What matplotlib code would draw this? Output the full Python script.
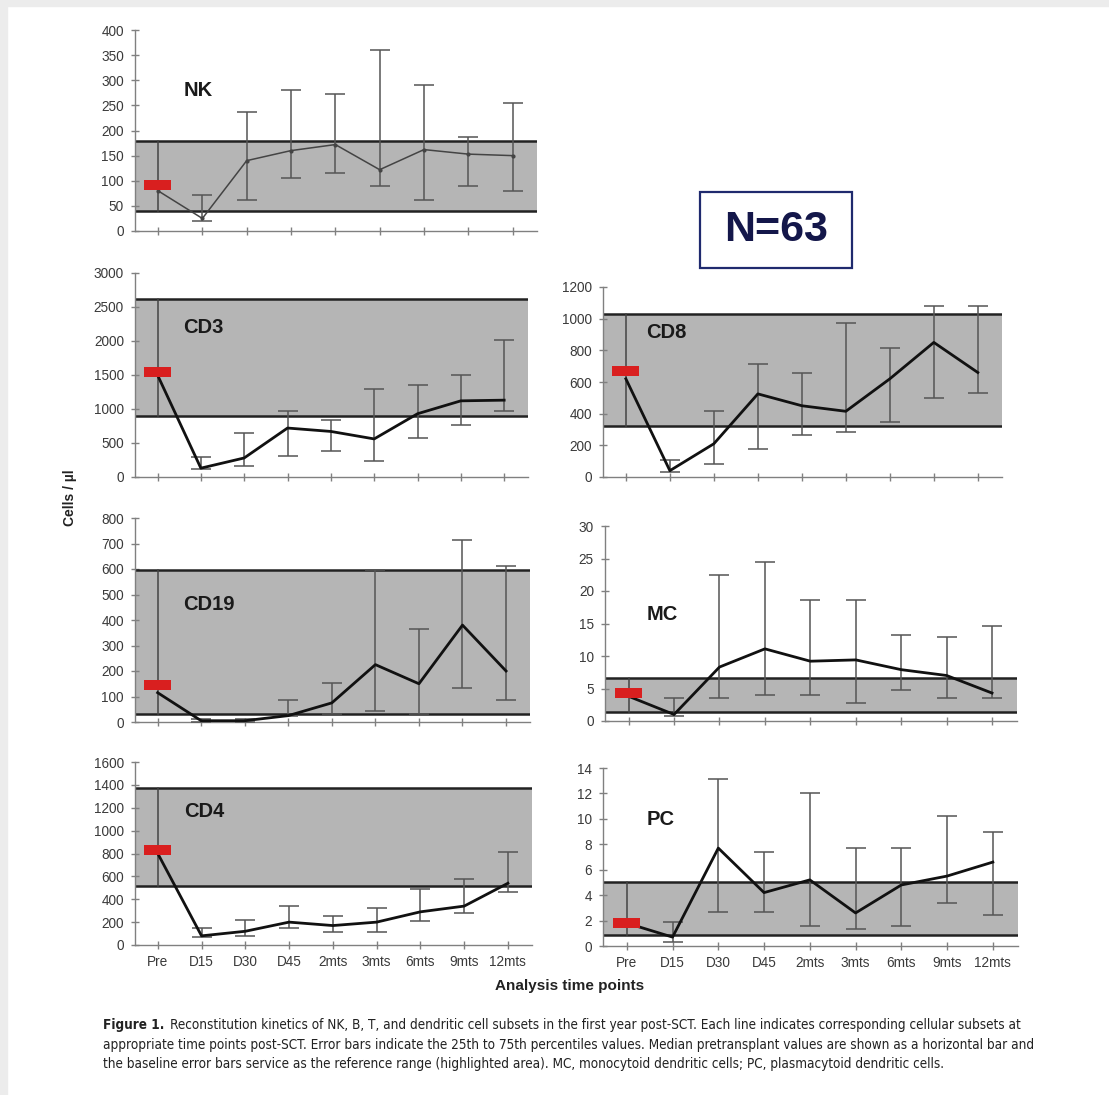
import matplotlib
matplotlib.use("Agg")
import matplotlib.pyplot as plt
from matplotlib.patches import Rectangle

plt.rcParams['font.family'] = ['Liberation Sans', 'DejaVu Sans']

W, H = 1109, 1095

times = ["Pre", "D15", "D30", "D45", "2mts", "3mts", "6mts", "9mts", "12mts"]

# medians and 25th / 75th percentiles
nk_med = [80, 25, 140, 160, 172, 122, 162, 153, 150]
nk_lo = [40, 20, 62, 105, 115, 90, 62, 90, 80]
nk_hi = [180, 72, 237, 280, 272, 360, 290, 188, 255]
nk_pre = 91

cd3_med = [1500, 130, 280, 720, 670, 560, 930, 1120, 1130]
cd3_lo = [900, 120, 160, 310, 380, 240, 580, 770, 970]
cd3_hi = [2620, 300, 650, 970, 840, 1300, 1360, 1500, 2020]
cd3_pre = 1550

cd8_med = [620, 40, 210, 525, 450, 415, 620, 850, 660]
cd8_lo = [320, 30, 80, 180, 265, 285, 345, 500, 530]
cd8_hi = [1030, 105, 420, 715, 660, 975, 815, 1080, 1080]
cd8_pre = 670

cd19_med = [115, 5, 5, 25, 75, 225, 150, 380, 200]
cd19_lo = [30, 0, 0, 25, 30, 45, 30, 135, 85]
cd19_hi = [595, 10, 10, 85, 152, 595, 365, 715, 610]
cd19_pre = 145

mc_med = [3.8, 1.0, 8.3, 11.1, 9.2, 9.4, 7.9, 7.0, 4.3]
mc_lo = [1.4, 0.7, 3.5, 4.0, 4.0, 2.7, 4.7, 3.5, 3.5]
mc_hi = [6.6, 3.5, 22.4, 24.4, 18.6, 18.6, 13.3, 12.9, 14.6]
mc_pre = 4.3

cd4_med = [800, 80, 120, 200, 170, 200, 290, 340, 540]
cd4_lo = [520, 70, 75, 145, 110, 110, 210, 280, 460]
cd4_hi = [1370, 150, 215, 345, 255, 325, 490, 575, 815]
cd4_pre = 830

pc_med = [1.8, 0.7, 7.7, 4.2, 5.2, 2.6, 4.8, 5.5, 6.6]
pc_lo = [0.9, 0.3, 2.7, 2.7, 1.6, 1.3, 1.6, 3.4, 2.4]
pc_hi = [5.0, 1.9, 13.1, 7.4, 12.0, 7.7, 7.7, 10.2, 9.0]
pc_pre = 1.8

# name, med, lo, hi, pre, ymax, ystep, box(l,t,r,b px), label pos (axes frac), line width, xlabels
panels = [
    ("NK", nk_med, nk_lo, nk_hi, nk_pre, 400, 50, (135, 30, 537, 231), (0.12, 0.70), 1.1, False),
    ("CD3", cd3_med, cd3_lo, cd3_hi, cd3_pre, 3000, 500, (135, 273, 528, 477), (0.122, 0.735), 2.0, False),
    ("CD8", cd8_med, cd8_lo, cd8_hi, cd8_pre, 1200, 200, (603, 287, 1002, 477), (0.108, 0.758), 2.0, False),
    ("CD19", cd19_med, cd19_lo, cd19_hi, cd19_pre, 800, 100, (135, 518, 530, 722), (0.122, 0.578), 2.0, False),
    ("MC", mc_med, mc_lo, mc_hi, mc_pre, 30, 5, (605, 526, 1017, 721), (0.10, 0.544), 2.0, False),
    ("CD4", cd4_med, cd4_lo, cd4_hi, cd4_pre, 1600, 200, (135, 762, 532, 945), (0.123, 0.727), 2.0, True),
    ("PC", pc_med, pc_lo, pc_hi, pc_pre, 14, 2, (603, 768, 1018, 946), (0.104, 0.708), 2.0, True),
]

fig = plt.figure(figsize=(W / 100, H / 100), dpi=100)
fig.patch.set_facecolor("white")
# light frame of the screenshot
fig.patches.append(Rectangle((0, 1 - 6 / H), 1, 6 / H, transform=fig.transFigure, color="#ececec", zorder=0))
fig.patches.append(Rectangle((0, 0), 7 / W, 1, transform=fig.transFigure, color="#ececec", zorder=0))

x = list(range(len(times)))
x0, x1 = -0.52, 8.55

for name, med, lo, hi, pre, ymax, ystep, (l, t, r, b), lab, lw, xlab in panels:
    ax = fig.add_axes([l / W, 1 - b / H, (r - l) / W, (b - t) / H])
    ax.set_xlim(x0, x1)
    ax.set_ylim(0, ymax)
    ax.patch.set_alpha(0)

    # reference range from the baseline error bar
    ax.add_patch(Rectangle((x0, lo[0]), x1 - x0, hi[0] - lo[0], color="#b5b5b5", zorder=1, lw=0))
    ax.plot([x0, x1], [lo[0], lo[0]], color="#222222", lw=1.8, zorder=2)
    ax.plot([x0, x1], [hi[0], hi[0]], color="#222222", lw=1.8, zorder=2)
    ax.plot([0, 0], [lo[0], hi[0]], color="#444444", lw=1.1, zorder=3)

    yerr = [[med[i] - lo[i] for i in x[1:]], [hi[i] - med[i] for i in x[1:]]]
    ax.errorbar(x[1:], med[1:], yerr=yerr, fmt="none", ecolor="#555555",
                elinewidth=1.1, capsize=7, capthick=1.1, zorder=3)
    ax.plot(x, med, color="#111111" if lw > 1.5 else "#444444", lw=lw, zorder=4,
            marker="o", ms=2 if lw < 1.5 else 0)

    # median pretransplant value
    px_w = (r - l) / (x1 - x0)
    h = 10 * ymax / (b - t)
    ax.add_patch(Rectangle((-14 / px_w, pre - h / 2), 27 / px_w, h, color="#d91f1f", zorder=5, lw=0))

    ax.text(lab[0], lab[1], name, transform=ax.transAxes, fontsize=14.5,
            fontweight="bold", color="#1a1a1a", va="center", ha="left")

    for s in ["top", "right"]:
        ax.spines[s].set_visible(False)
    for s in ["left", "bottom"]:
        ax.spines[s].set_color("#808080")
        ax.spines[s].set_linewidth(1.0)
        ax.spines[s].set_zorder(2.5)
    ax.set_yticks(range(0, ymax + ystep, ystep))
    ax.set_xticks(x)
    ax.set_xticklabels(times if xlab else [])
    ax.tick_params(direction="inout", length=6, width=1, color="#808080",
                   labelsize=9.8, labelcolor="#3a3a3a")
    ax.tick_params(axis="y", pad=5)
    ax.tick_params(axis="x", pad=4)

fig.text(70 / W, 1 - 498 / H, "Cells / µl", rotation=90, fontsize=10, fontweight="bold",
         ha="center", va="center", color="#222222")
fig.text(570 / W, 1 - 986 / H, "Analysis time points", fontsize=11, fontweight="bold",
         ha="center", va="center", color="#222222")

fig.text(776 / W, 1 - 230 / H, "N=63", fontsize=31, fontweight="bold", color="#14174a",
         ha="center", va="center")
fig.patches.append(Rectangle((700 / W, 1 - 268 / H), 152 / W, 76 / H, transform=fig.transFigure,
                             fill=False, edgecolor="#1f2a6e", lw=1.6))

cap_font = ['DejaVu Sans']
cap1 = ("Reconstitution kinetics of NK, B, T, and dendritic cell subsets in the first year "
        "post-SCT. Each line indicates corresponding cellular subsets at")
cap2 = ("appropriate time points post-SCT. Error bars indicate the 25th to 75th percentiles "
        "values. Median pretransplant values are shown as a horizontal bar and")
cap3 = ("the baseline error bars service as the reference range (highlighted area). MC, "
        "monocytoid dendritic cells; PC, plasmacytoid dendritic cells.")

# fit the caption to the width of the original column
rend = fig.canvas.get_renderer()
probe = fig.text(0, 0, cap2, fontsize=10, family=cap_font, fontstretch="condensed")
fs = 10 * 935 / probe.get_window_extent(rend).width
probe.remove()

t0 = fig.text(103 / W, 1 - 1025 / H, "Figure 1.", fontsize=fs, fontweight="bold",
              family=cap_font, fontstretch="condensed", color="#222222", va="center")
bb = t0.get_window_extent(rend)
fig.text((bb.x1 + 6) / W, 1 - 1025 / H, cap1, fontsize=fs, family=cap_font,
         fontstretch="condensed", color="#222222", va="center")
fig.text(103 / W, 1 - 1045 / H, cap2, fontsize=fs, family=cap_font,
         fontstretch="condensed", color="#222222", va="center")
fig.text(103 / W, 1 - 1064 / H, cap3, fontsize=fs, family=cap_font,
         fontstretch="condensed", color="#222222", va="center")

fig.savefig("out.png", dpi=100)
